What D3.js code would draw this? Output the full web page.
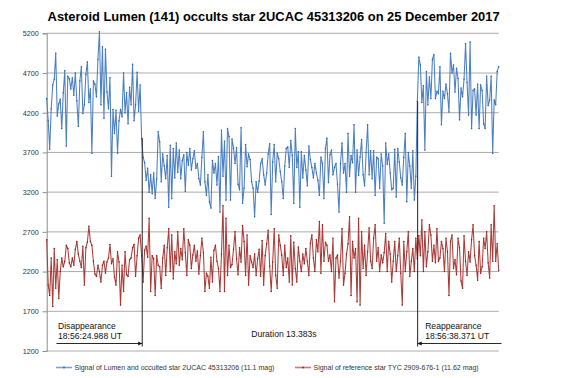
<!DOCTYPE html>
<html><head><meta charset="utf-8">
<script src="https://cdn.jsdelivr.net/npm/d3@7/dist/d3.min.js"></script>
<style>body{margin:0;background:#fff}svg{display:block}</style>
</head><body>
<svg id="chart" width="567" height="378"></svg>
<script>
const chartTitle = "Asteroid Lumen (141) occults star 2UCAC 45313206 on 25 December 2017";
const yTickValues = [1200, 1700, 2200, 2700, 3200, 3700, 4200, 4700, 5200];
const seriesNames = [
  "Signal of Lumen and occulted star 2UCAC 45313206 (11.1 mag)",
  "Signal of reference star TYC 2909-676-1 (11.62 mag)"
];
const occultedSignal = [
4380,4100,3740,4250,4550,4620,4950,4160,4310,4370,4000,4450,4730,3780,4660,4630,4500,4640,4420,4700,
4350,4030,4600,4780,4190,4300,4680,4840,4330,4500,3690,4600,4560,4400,4870,5220,4300,5030,4130,5000,
4460,4250,4640,3400,4240,3940,4230,3690,4100,4240,4150,4700,4200,4450,4060,4520,4300,4810,4100,4300,
4710,4220,4550,3880,
3640,3570,3350,3500,3200,3420,3180,3440,3120,3370,3960,
3830,3330,3680,3530,3370,3660,3010,3790,3120,3750,3380,3820,3450,3730,3370,3600,3670,3210,3700,3540,
3750,3480,3620,3720,3500,3560,3370,3290,3640,3960,3330,3160,3420,3080,3000,3600,3440,3560,3290,3650,
2950,3980,3400,3840,3100,4000,3900,3100,3870,3750,3560,3760,3300,3230,4010,3060,3250,3800,3520,3680,
3610,3330,3250,2890,3330,3200,3340,3560,3620,3420,3290,3440,3680,3810,2920,
3580,3800,3330,3690,3620,3460,3330,3120,3530,3750,3770,3510,3850,3660,3060,4000,3510,3710,3010,3710,
3380,3660,3480,3280,3780,3610,3510,3380,3560,3440,3350,3160,3640,3560,3120,3750,3880,3320,3670,3730,
3420,3510,3560,3300,2950,3560,3820,3440,3560,3200,3940,3400,3660,3570,4050,3200,3730,3410,3640,3860,
3420,3280,3700,4050,3420,3720,3370,3720,3160,3640,3620,3250,3680,3530,2810,
3820,3550,3680,3440,3230,3250,3740,3140,3750,3580,3380,3290,3640,3940,3080,3700,3530,3250,3720,3100,
3400,4340,
4900,4800,4330,4540,3730,4720,4300,4650,4380,4870,4930,4380,4470,4440,4780,4050,4470,4380,4560,4440,
4210,4950,4700,4800,4460,4760,4630,4110,4510,4400,4620,5070,4580,4170,5090,4000,4480,4500,4170,4560,
4000,4550,4480,4060,4000,4660,4290,4360,4660,3690,4360,4300,4720,4780
];
const referenceSignal = [
2600,2030,1900,2370,1760,2490,1990,2350,1860,2200,2370,2260,2330,2530,2490,2310,2260,2370,2280,2480,
2580,2420,2330,2250,2520,2030,2500,2570,2770,2580,2530,2330,2170,2140,2280,2200,2070,2280,2330,2180,
2320,2370,2540,2300,2360,2130,2030,2450,2320,1780,2280,1950,2450,2160,2140,2350,2370,2500,2540,2140,
2400,2620,2660,2400,2070,2470,2520,2380,2870,1950,2400,2360,1900,2400,2280,
2260,1990,2370,2530,2150,2500,2740,2200,2660,2110,2450,2300,2700,2280,2490,2350,2740,2440,2150,2600,
2530,2240,2410,2530,2330,2460,2170,2400,2620,2440,1950,2180,2140,1990,2380,2070,2470,2530,2330,2240,
1950,2420,3030,1950,2870,2150,2530,2250,2290,2480,2700,2360,2160,2500,2320,2780,2580,2150,2660,2030,
2400,2320,2250,2420,2150,2360,2480,2140,2590,2030,2400,2550,2720,2270,1950,
2320,2740,2150,1990,2660,2530,2410,2150,2530,2250,2370,2070,2650,2030,2570,2240,2070,2510,2330,2200,
2420,2300,2490,2330,2150,2560,2660,2370,2200,2600,2450,2830,2180,2790,2330,2570,2530,2330,2410,2200,
2620,1820,2370,2410,2120,2330,2740,2030,2180,2420,2550,2890,1900,2580,2370,2490,1820,2870,1780,2700,
2240,2530,2150,2450,2750,2330,2240,2620,2790,2330,2500,2200,2410,2310,2440,
2680,2200,2580,2420,2070,2330,2580,2200,2400,2620,2180,1780,2580,2200,2450,2700,2140,2330,2490,2200,
2620,2360,2650,2400,2850,2200,2700,2260,2450,2790,2660,2330,2530,2310,2740,2330,2370,2580,2490,2200,
2620,2450,1900,2580,2660,2240,2350,2160,2620,2500,2080,1990,2650,2330,2150,2450,2320,2600,2790,2400,
2280,2090,2580,2180,2260,2620,2490,2700,2310,2120,2790,2330,3030,2330,2550,2210
];
const eventFrames = [63.4, 246.2];
const eventTopValues = [3880, 4340];
const eventLabels = [["Disappearance", "18:56:24.988 UT"], ["Reappearance", "18:56:38.371 UT"]];
const durationLabel = "Duration 13.383s";

const svg = d3.select("#chart");
const font = "'Liberation Sans', Arial, sans-serif";
const plotLeft = 46.7, plotRight = 498.7, plotTop = 33.3, plotBottom = 351;
const x = d3.scaleLinear().domain([0, occultedSignal.length - 1]).range([plotLeft, plotRight]);
const y = d3.scaleLinear().domain([1200, 5200]).range([plotBottom, plotTop]);

svg.append("rect").attr("width", 567).attr("height", 378).attr("fill", "#fff");

// title
svg.append("text").attr("x", 273.6).attr("y", 21).attr("text-anchor", "middle")
  .attr("font-family", font).attr("font-weight", "bold").attr("font-size", 13.5)
  .attr("fill", "#000").attr("textLength", 452).attr("lengthAdjust", "spacingAndGlyphs")
  .text(chartTitle);

// gridlines
svg.append("g").selectAll("line").data(yTickValues).join("line")
  .attr("x1", plotLeft).attr("x2", plotRight).attr("y1", d => y(d)).attr("y2", d => y(d))
  .attr("stroke", "#ababab").attr("stroke-width", 1);

// y axis
const yAxis = d3.axisLeft(y).tickValues(yTickValues).tickSize(4).tickPadding(4).tickFormat(d3.format("d"));
const ga = svg.append("g").attr("transform", `translate(${plotLeft},0)`).call(yAxis);
ga.select(".domain").attr("stroke", "#8c8c8c");
ga.selectAll(".tick line").attr("stroke", "#8c8c8c");
ga.selectAll("text").attr("font-family", font).attr("font-size", 7.2).attr("fill", "#333");

// series
const series = [
  {values: occultedSignal, line: "#4a7fc1", dot: "#2b62aa"},
  {values: referenceSignal, line: "#aa3c39", dot: "#8a1c1a"}
];
const lineGen = d3.line().x((d, i) => x(i)).y(d => y(d));
series.forEach(s => {
  svg.append("path").datum(s.values).attr("d", lineGen)
    .attr("fill", "none").attr("stroke", s.line).attr("stroke-width", 1.05)
    .attr("stroke-linejoin", "round");
  svg.append("g").selectAll("circle").data(s.values).join("circle")
    .attr("cx", (d, i) => x(i)).attr("cy", d => y(d)).attr("r", 0.75).attr("fill", s.dot);
});

// event lines and annotations
const defs = svg.append("defs");
defs.append("marker").attr("id", "ah").attr("viewBox", "0 0 10 10").attr("refX", 10).attr("refY", 5)
  .attr("markerWidth", 4.5).attr("markerHeight", 4.5).attr("orient", "auto-start-reverse")
  .append("path").attr("d", "M0,0L10,5L0,10z").attr("fill", "#111");

const arrowY = 343.5;
eventFrames.forEach((f, k) => {
  const ex = x(f);
  svg.append("line").attr("x1", ex).attr("x2", ex).attr("y1", y(eventTopValues[k])).attr("y2", 346.5)
    .attr("stroke", "#222").attr("stroke-width", 1);
  const isStart = k === 0;
  const ax1 = isStart ? 56.4 : 501.5;
  svg.append("line").attr("x1", ax1).attr("x2", ex).attr("y1", arrowY).attr("y2", arrowY)
    .attr("stroke", "#111").attr("stroke-width", 0.9).attr("marker-end", "url(#ah)");
  const tx = isStart ? 58 : ex + 7.5;
  eventLabels[k].forEach((t, j) => {
    svg.append("text").attr("x", tx).attr("y", 329.3 + j * 9.3)
      .attr("font-family", font).attr("font-size", 8.6).attr("fill", "#111").text(t);
  });
});
svg.append("text").attr("x", (x(eventFrames[0]) + x(eventFrames[1])) / 2 + 4).attr("y", 337)
  .attr("text-anchor", "middle").attr("font-family", font).attr("font-size", 8.6).attr("fill", "#111")
  .text(durationLabel);

// legend
const legendItems = [{x: 56, tx: 74.5}, {x: 295, tx: 313.5}];
legendItems.forEach((l, k) => {
  const g = svg.append("g");
  g.append("line").attr("x1", l.x).attr("x2", l.x + 16).attr("y1", 367.5).attr("y2", 367.5)
    .attr("stroke", k === 0 ? "#7ea3d4" : "#c27c7a").attr("stroke-width", 1.6);
  g.append("circle").attr("cx", l.x + 8).attr("cy", 367.5).attr("r", 0.9).attr("fill", series[k].dot);
  g.append("text").attr("x", l.tx).attr("y", 370).attr("font-family", font).attr("font-size", 7)
    .attr("fill", "#333").text(seriesNames[k]);
});
</script>
</body></html>
